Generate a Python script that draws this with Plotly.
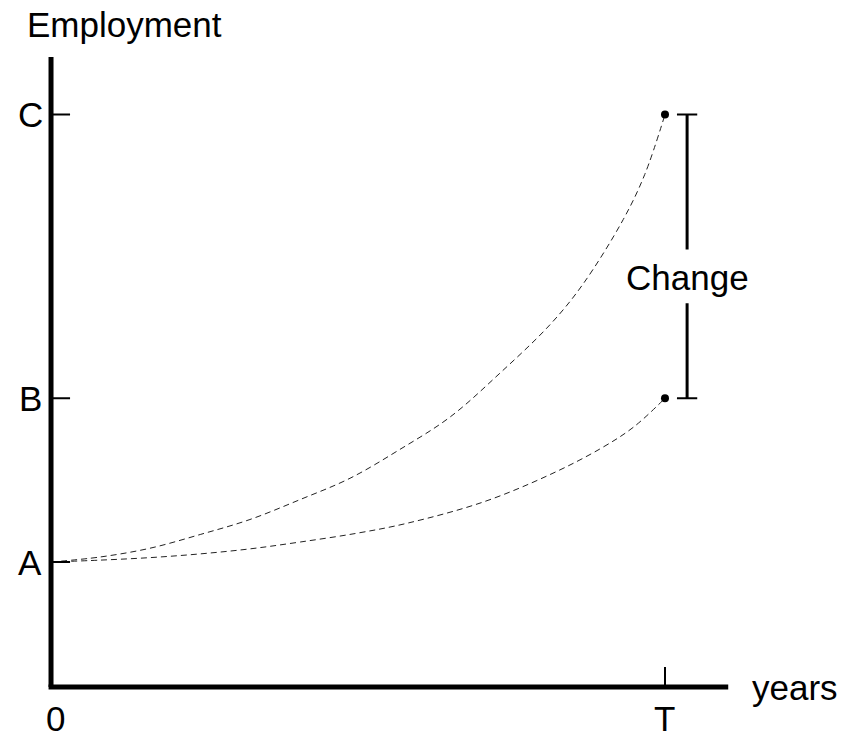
import plotly.graph_objects as go

# ---- data (years on x, employment on y; A = starting level) ----
T = 10.0
level_labels = ["A", "B", "C"]
level_values = [1.00, 2.31, 4.58]

years_upper = [0, 0.80, 1.61, 2.43, 3.24, 4.06, 4.87, 5.68, 6.50, 7.31, 8.13, 8.66, 9.32, 9.67, 10.0]
emp_upper = [1.00, 1.04, 1.11, 1.22, 1.34, 1.50, 1.67, 1.90, 2.16, 2.51, 2.90, 3.22, 3.74, 4.10, 4.58]

years_lower = [0, 0.80, 1.61, 2.43, 3.24, 4.06, 4.98, 5.80, 7.04, 8.13, 8.96, 9.49, 10.0]
emp_lower = [1.00, 1.015, 1.035, 1.065, 1.105, 1.16, 1.23, 1.31, 1.48, 1.70, 1.91, 2.08, 2.31]

x_tick_labels = ["0", "T"]
x_tick_values = [0, T]

# ---- layout constants ----
X_MIN, X_MAX = -0.831, 12.883
Y_MIN, Y_MAX = -0.416, 5.496
X_AXIS_END = 11.03
Y_AXIS_TOP = 5.04
FONT = "Liberation Sans, Arial, sans-serif"
FS = 35

fig = go.Figure()

dash = "6px,4px"
fig.add_trace(go.Scatter(x=years_upper, y=emp_upper, mode="lines",
                         line=dict(color="#222222", width=1, dash=dash, shape="spline", smoothing=1.0),
                         showlegend=False, hoverinfo="skip"))
fig.add_trace(go.Scatter(x=years_lower, y=emp_lower, mode="lines",
                         line=dict(color="#222222", width=1, dash=dash, shape="spline", smoothing=1.0),
                         showlegend=False, hoverinfo="skip"))
fig.add_trace(go.Scatter(x=[T, T], y=[level_values[1], level_values[2]], mode="markers",
                         marker=dict(color="black", size=8), cliponaxis=False,
                         showlegend=False, hoverinfo="skip"))

shapes = []
# axes
shapes.append(dict(type="line", x0=0, x1=0, y0=0, y1=Y_AXIS_TOP, line=dict(color="black", width=5)))
shapes.append(dict(type="line", x0=-0.04, x1=X_AXIS_END, y0=0, y1=0, line=dict(color="black", width=5)))
# y ticks
for v in level_values:
    shapes.append(dict(type="line", x0=0, x1=0.31, y0=v, y1=v, line=dict(color="black", width=2)))
# x tick at T
shapes.append(dict(type="line", x0=T, x1=T, y0=0, y1=0.16, line=dict(color="black", width=2)))
# change bracket
bx = T + 0.36
shapes.append(dict(type="line", x0=bx, x1=bx, y0=level_values[2], y1=3.50, line=dict(color="black", width=3)))
shapes.append(dict(type="line", x0=bx, x1=bx, y0=3.07, y1=level_values[1], line=dict(color="black", width=3)))
for v in [level_values[1], level_values[2]]:
    shapes.append(dict(type="line", x0=bx - 0.165, x1=bx + 0.165, y0=v, y1=v, line=dict(color="black", width=2)))

annotations = []
for lab, v in zip(level_labels, level_values):
    annotations.append(dict(x=-0.34, y=v, text=lab, showarrow=False, xanchor="center", yanchor="middle"))
for lab, v in zip(x_tick_labels, x_tick_values):
    annotations.append(dict(x=v + (0.07 if v == 0 else 0), y=0, yref="paper", text=lab, showarrow=False,
                            xanchor="center", yanchor="bottom", borderpad=0))
annotations.append(dict(x=1.2, y=5.30, text="Employment", showarrow=False, xanchor="center", yanchor="middle"))
annotations.append(dict(x=11.38, y=0.0, text="years", showarrow=False, xanchor="left", yanchor="middle"))
annotations.append(dict(x=bx, y=3.28, text="Change", showarrow=False, xanchor="center", yanchor="middle"))

fig.update_layout(
    width=842, height=739,
    margin=dict(l=0, r=0, t=0, b=0),
    paper_bgcolor="white", plot_bgcolor="white",
    font=dict(family=FONT, size=FS, color="black"),
    xaxis=dict(range=[X_MIN, X_MAX], visible=False, fixedrange=True),
    yaxis=dict(range=[Y_MIN, Y_MAX], visible=False, fixedrange=True),
    shapes=shapes, annotations=annotations,
)

fig.write_html("out.html", config={"displayModeBar": False},
               post_script="document.body.style.margin='0';document.body.style.overflow='hidden';")
